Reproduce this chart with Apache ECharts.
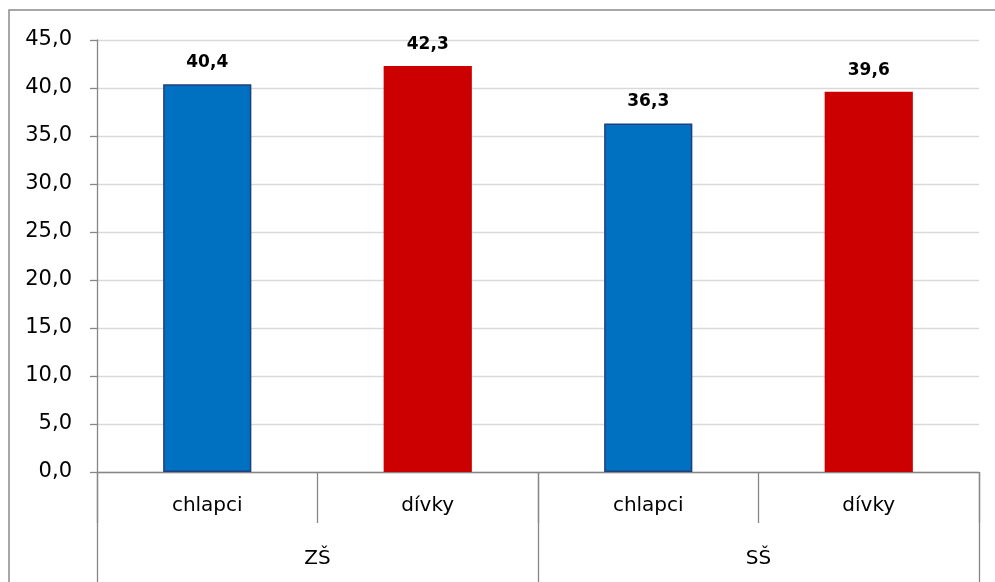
<!DOCTYPE html>
<html>
<head>
<meta charset="utf-8">
<script src="https://cdn.jsdelivr.net/npm/echarts@6/dist/echarts.min.js"></script>
<style>
  html, body { margin: 0; padding: 0; background: #fff; }
  #chart { width: 995px; height: 582px; }
</style>
</head>
<body>
<div id="chart"></div>
<script>
// data
var categories = ['chlapci', 'dívky', 'chlapci', 'dívky'];
var groups = ['ZŠ', 'SŠ'];
var values = [40.4, 42.3, 36.3, 39.6];

var barColors = ['#0070C0', '#CC0000'];
var barBorders = ['#1F3F7F', '#CC0000'];

function comma(v, d) {
  return v.toFixed(d).replace('.', ',');
}

var myChart = echarts.init(document.getElementById('chart'));
myChart.setOption({
  animation: false,
  textStyle: { fontFamily: 'DejaVu Sans' },
  // chart frame: only its top and left edges are inside the picture
  graphic: [
    {
      type: 'polyline',
      shape: { points: [[9, 600], [9, 10], [1000, 10]] },
      style: { fill: null, stroke: '#8a8a8a', lineWidth: 1.5 },
      silent: true
    }
  ],
  grid: { left: 97, right: 16, top: 40, bottom: 110 },
  xAxis: [
    {
      type: 'category',
      data: categories,
      axisLine: { lineStyle: { color: '#868686', width: 1.3 } },
      axisTick: { show: true, interval: 0, length: 51, lineStyle: { color: '#868686', width: 1.3 } },
      axisLabel: { color: '#000', fontFamily: 'DejaVu Sans', fontSize: 20, margin: 24, interval: 0 },
      splitLine: { show: false }
    },
    {
      type: 'category',
      data: groups,
      position: 'bottom',
      axisLine: { show: false },
      axisTick: { show: true, interval: 0, length: 115, lineStyle: { color: '#868686', width: 1.3 } },
      axisLabel: { color: '#000', fontFamily: 'DejaVu Sans', fontSize: 20, margin: 77, interval: 0 },
      splitLine: { show: false }
    }
  ],
  yAxis: {
    type: 'value',
    min: 0, max: 45, interval: 5,
    axisLine: { show: true, lineStyle: { color: '#868686', width: 1.3 } },
    axisTick: { show: true, length: 7, lineStyle: { color: '#868686', width: 1.3 } },
    axisLabel: {
      color: '#000', fontFamily: 'DejaVu Sans', fontSize: 21, margin: 25,
      formatter: function (v) { return comma(v, 1); }
    },
    splitLine: { lineStyle: { color: '#D9D9D9', width: 1.3 } }
  },
  series: [{
    type: 'bar',
    xAxisIndex: 0,
    barWidth: '40%',
    // blue bars carry a dark outline, red ones do not
    data: values.map(function (v, i) {
      return {
        value: v,
        itemStyle: {
          color: barColors[i % 2],
          borderColor: barBorders[i % 2],
          borderWidth: i % 2 === 0 ? 1.5 : 0
        }
      };
    }),
    label: {
      show: true,
      position: 'top',
      distance: 13,
      color: '#000',
      fontFamily: 'DejaVu Sans',
      fontSize: 17,
      fontWeight: 'bold',
      formatter: function (p) { return comma(p.value, 1); }
    }
  }]
});
</script>
</body>
</html>
